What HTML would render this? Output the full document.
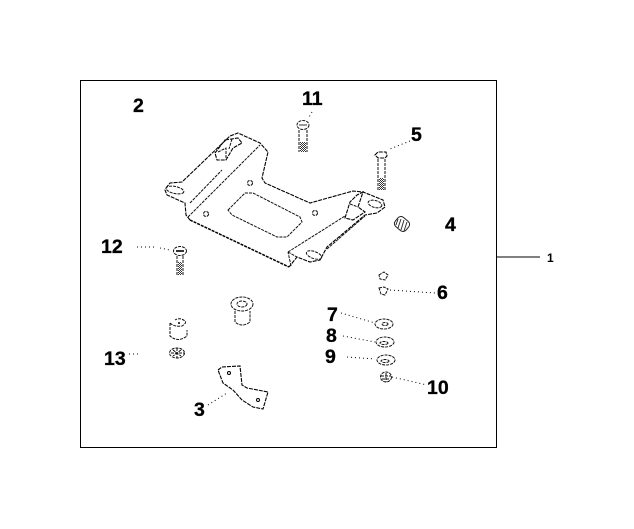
<!DOCTYPE html>
<html><head><meta charset="utf-8"><style>
html,body{margin:0;padding:0;background:#fff}
svg{display:block}
text{font-family:"Liberation Sans",sans-serif;font-weight:bold;fill:#000}
.n text{stroke:#000;stroke-width:.3}
.p{fill:none;stroke:#000;stroke-width:1.1;stroke-dasharray:4 1}
.b{fill:none;stroke:#000;stroke-width:1.5;stroke-dasharray:3 1}
.s{fill:none;stroke:#111;stroke-width:1;stroke-dasharray:3 1}
.l{fill:none;stroke:#000;stroke-width:1;stroke-dasharray:1 3}
</style></head><body>
<svg width="634" height="529" viewBox="0 0 634 529" xmlns="http://www.w3.org/2000/svg">
<defs>
<pattern id="ch" width="2" height="2" patternUnits="userSpaceOnUse">
<rect width="2" height="2" fill="#fff"/><rect width="1" height="1" fill="#000"/><rect x="1" y="1" width="1" height="1" fill="#000"/>
</pattern>
</defs>
<rect x="80.5" y="80.5" width="416" height="367" fill="none" stroke="#000"/>
<path d="M497 257H540" stroke="#000" fill="none"/>
<!-- plate -->
<path class="p" d="M166 188L170 183L182 182L230 136L238 133L260 143L268 152L262 178L265 183L310 203L353 191L363 192L383 200L385 207L377 213L365 215L327 247L320 260L310 262L297 257L289 267"/>
<path class="b" d="M190 220L289 267"/>
<path class="p" d="M190 220L186 215L185 203L167 195L165 190L166 188"/>
<path class="s" d="M188 217L260 145M190 203L222 170M288 252L297 257M288 252L345 216M291 266L288 252"/>
<path class="s" d="M327 249L365 216"/>
<path class="s" d="M228 210L245 193L253 193L300 217L302 222L287 237L277 237L232 215Z"/>
<ellipse class="s" cx="175" cy="190" rx="9" ry="3.5" transform="rotate(12 175 190)"/>
<ellipse class="s" cx="375" cy="204" rx="7" ry="3.5" transform="rotate(15 375 204)"/>
<ellipse class="s" cx="314" cy="255" rx="8" ry="3.5" transform="rotate(20 314 255)"/>
<path class="p" d="M225 140L238 138L242 143L233 148L226 160L217 160L215 153L225 140Z"/>
<path class="s" d="M218 152L226 148L226 160M232 139L229 149"/>
<path class="p" d="M345 218L350 202L357 195L363 192L358 207L365 212L353 220Z"/>
<path class="s" d="M350 204L358 207"/>
<circle class="s" cx="250" cy="183" r="2.5"/><circle class="s" cx="206" cy="214" r="2.5"/><circle class="s" cx="315" cy="213" r="2.5"/>
<!-- bolt 11 -->
<ellipse class="s" cx="303" cy="125" rx="6" ry="4.5"/>
<path d="M299 125H307" stroke="#333" stroke-width="1"/>
<path class="s" d="M299 130V152M307 130V152"/>
<rect x="300" y="142" width="6" height="10" fill="url(#ch)" opacity=".8"/>
<!-- bolt 5 -->
<path class="p" d="M375 155L378 152H386L387 156L385 158H378Z"/>
<path class="s" d="M378 159V190M385 159V190"/>
<rect x="379" y="178" width="5" height="12" fill="url(#ch)" opacity=".8"/>
<!-- bolt 12 -->
<ellipse class="s" cx="180" cy="251" rx="6.5" ry="4.5"/>
<path d="M176 251H184" stroke="#333" stroke-width="2"/>
<path class="s" d="M177 256V275M183 256V275"/>
<rect x="178" y="262" width="4" height="13" fill="url(#ch)" opacity=".8"/>
<!-- bushing -->
<ellipse class="s" cx="242" cy="304" rx="11" ry="7"/>
<ellipse class="s" cx="242" cy="304" rx="5" ry="3"/>
<path class="s" d="M235 311V322Q242 328 250 322V311"/>
<!-- sleeve -->
<path class="s" d="M170 323V336Q178 343 187 336V330"/>
<path class="s" d="M170 323Q174 327 182 326Q187 323 185 321Q180 317 175 320"/>
<circle cx="179" cy="323" r="1" fill="#000"/>
<!-- nut 13 -->
<ellipse class="s" cx="177" cy="353" rx="7.5" ry="5"/>
<path class="s" d="M171 353H184M177 348V358M173 350L181 356M181 350L173 356"/>
<!-- bracket 3 -->
<path class="p" d="M218 370L222 367L240 366L242 385L247 388L268 392L263 409L253 407L242 400L233 390L223 383Z"/>
<circle cx="229" cy="373" r="1.5" fill="none" stroke="#000"/><circle cx="258" cy="400" r="1.5" fill="none" stroke="#000"/>
<!-- collar 4 -->
<rect x="395" y="218" width="14" height="12" rx="4" transform="rotate(40 402 224)" fill="#fff" stroke="#222"/>
<path d="M398 219L396 225M401 219L398 228M404 220L401 230M407 222L404 231" stroke="#333" fill="none"/>
<!-- 6 pieces -->
<path class="s" d="M379 275L384 272L388 275L385 280L380 279Z"/>
<path class="s" d="M379 288L384 287L388 289L385 295L381 294Z"/>
<!-- washers -->
<ellipse class="s" cx="384" cy="324" rx="9" ry="5"/><ellipse class="s" cx="385" cy="324" rx="3" ry="1.5"/>
<ellipse class="s" cx="385" cy="342" rx="9" ry="5"/><ellipse class="s" cx="384" cy="343" rx="4" ry="1.5"/>
<ellipse class="s" cx="386" cy="360" rx="9" ry="5"/><ellipse class="s" cx="385" cy="361" rx="4" ry="1.5"/>
<ellipse class="s" cx="386" cy="377" rx="5.5" ry="5"/>
<path class="s" d="M381 376H391M386 373V382M382 379H390"/>
<!-- leaders -->
<path class="l" d="M312 112L308 119M410 141L390 149M137 247H155M160 248L170 250M129 354H138M208 405L227 393M390 290L435 293M341 313L375 323M343 336L375 342M347 357L375 359M392 377L427 385"/>
<!-- labels -->
<g class="n" font-size="19.5">
<text x="133" y="112">2</text>
<text x="302" y="105">11</text>
<text x="411" y="141">5</text>
<text x="445" y="231">4</text>
<text x="101" y="253">12</text>
<text x="437" y="299">6</text>
<text x="327" y="321">7</text>
<text x="326" y="342">8</text>
<text x="325" y="363">9</text>
<text x="427" y="394">10</text>
<text x="104" y="365">13</text>
<text x="194" y="416">3</text>
</g>
<text x="547" y="262" font-size="12">1</text>
</svg>
</body></html>
